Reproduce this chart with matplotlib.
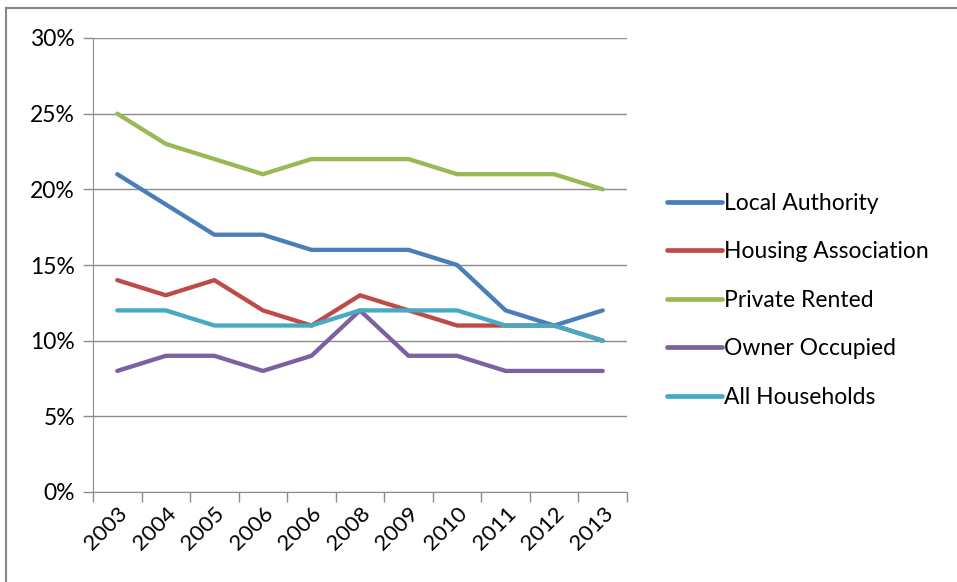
import matplotlib.pyplot as plt
from matplotlib.lines import Line2D
from matplotlib.ticker import FuncFormatter, MultipleLocator

years = ["2003", "2004", "2005", "2006", "2006", "2008", "2009", "2010", "2011", "2012", "2013"]
local_authority = [21, 19, 17, 17, 16, 16, 16, 15, 12, 11, 12]
housing_association = [14, 13, 14, 12, 11, 13, 12, 11, 11, 11, 10]
private_rented = [25, 23, 22, 21, 22, 22, 22, 21, 21, 21, 20]
owner_occupied = [8, 9, 9, 8, 9, 12, 9, 9, 8, 8, 8]
all_households = [12, 12, 11, 11, 11, 12, 12, 12, 11, 11, 10]

series = [
    ("Local Authority", local_authority, "#4A7EBB"),
    ("Housing Association", housing_association, "#BE4B48"),
    ("Private Rented", private_rented, "#98B954"),
    ("Owner Occupied", owner_occupied, "#7D60A0"),
    ("All Households", all_households, "#46AAC5"),
]

plt.rcParams['font.family'] = ['Lato', 'DejaVu Sans']

fig = plt.figure(figsize=(9.57, 5.82), dpi=100)
ax = fig.add_axes([93 / 957, 90 / 582, 534 / 957, 454 / 582])

x = list(range(len(years)))
for name, vals, col in series:
    ax.plot(x, vals, color=col, linewidth=3.1, label=name, solid_capstyle='round')

ax.set_xlim(-0.5, len(years) - 0.5)
ax.set_ylim(0, 30)
ax.yaxis.set_major_locator(MultipleLocator(5))
ax.yaxis.set_major_formatter(FuncFormatter(lambda v, p: "%d%%" % v))
ax.grid(axis='y', color='#8C8C8C', linewidth=1)
ax.set_axisbelow(True)

# category boundaries as tick marks, labels at centres
ax.set_xticks([i - 0.5 for i in range(len(years) + 1)])
ax.set_xticklabels([])
ax.set_xticks(x, minor=True)
ax.set_xticklabels(years, minor=True, rotation=45, ha='right', va='top',
                   rotation_mode='anchor', fontsize=16)
ax.tick_params(axis='x', which='minor', length=0, pad=8)
ax.tick_params(axis='x', which='major', length=7, color='#8C8C8C', width=1)
ax.tick_params(axis='y', length=7, color='#8C8C8C', width=1, labelsize=16.5, pad=6)

for s in ['top', 'right']:
    ax.spines[s].set_visible(False)
for s in ['left', 'bottom']:
    ax.spines[s].set_color('#8C8C8C')

handles = [Line2D([0], [0], color=c, linewidth=3.4, solid_capstyle='round') for _, _, c in series]
fig.legend(handles, [n for n, _, _ in series], loc='upper left',
           bbox_to_anchor=(646 / 957, 1 - 172 / 582), frameon=False,
           fontsize=16.5, handlelength=2.4, handletextpad=0.12, labelspacing=1.2)

# chart area border (top and left visible)
fig.add_artist(Line2D([6 / 957, 1], [1 - 8 / 582, 1 - 8 / 582], color='#868686', linewidth=1.5))
fig.add_artist(Line2D([6 / 957, 6 / 957], [0, 1 - 8 / 582], color='#868686', linewidth=1.5))

fig.savefig("out.png", dpi=100)
